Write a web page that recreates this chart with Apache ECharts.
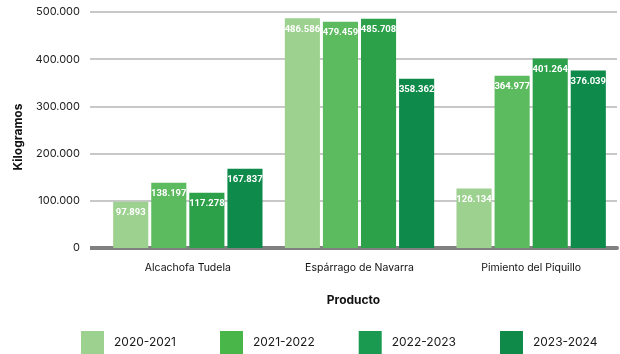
<!DOCTYPE html>
<html>
<head>
<meta charset="utf-8">
<script src="https://cdn.jsdelivr.net/npm/echarts@6/dist/echarts.min.js"></script>
<style>
  html, body { margin: 0; padding: 0; background: #fff; }
  #chart { width: 620px; height: 354px; }
</style>
</head>
<body>
<div id="chart"></div>
<script>
// Producción por producto y campaña (kg)
const productos = ['Alcachofa Tudela', 'Espárrago de Navarra', 'Pimiento del Piquillo'];
const campanas = ['2020-2021', '2021-2022', '2022-2023', '2023-2024'];
const kg2020 = [97893, 486586, 126134];
const kg2021 = [138197, 479459, 364977];
const kg2022 = [117278, 485708, 401264];
const kg2023 = [167837, 358362, 376039];
const yTicks = [0, 100000, 200000, 300000, 400000, 500000];

const barColors = ['#9dd18f', '#5cba5f', '#2da04a', '#0e8a4a'];
const legendColors = ['#9dd18f', '#49b649', '#1a9a50', '#108a48'];
const FONT = 'Inter, "Noto Sans", sans-serif';

const fmt = v => String(v).replace(/\B(?=(\d{3})+(?!\d))/g, '.');

const seriesData = [kg2020, kg2021, kg2022, kg2023];

const chart = echarts.init(document.getElementById('chart'), null, { renderer: 'canvas' });
chart.setOption({
  animation: false,
  textStyle: { fontFamily: FONT },
  grid: { left: 102, right: 3, top: 12, bottom: 106 },
  legend: {
    data: campanas.map((c, i) => ({ name: c, itemStyle: { color: legendColors[i] } })),
    top: 326,
    left: 76,
    width: 600,
    itemWidth: 23,
    itemHeight: 23,
    itemGap: 44,
    icon: 'rect',
    textStyle: { fontSize: 12, color: '#1a1a1a', fontFamily: FONT, padding: [0, 0, 0, 5] }
  },
  xAxis: {
    type: 'category',
    data: productos,
    name: 'Producto',
    nameLocation: 'middle',
    nameGap: 46,
    nameTextStyle: { fontSize: 12, fontWeight: 'bold', color: '#111', padding: [0, 12, 0, 0] },
    axisLine: { show: true, lineStyle: { color: '#808080', width: 4 } },
    axisTick: { show: false },
    axisLabel: { fontSize: 10.5, color: '#111', margin: 14 }
  },
  yAxis: [{
    type: 'value',
    min: 0,
    max: 500000,
    interval: 100000,
    name: 'Kilogramos',
    nameLocation: 'middle',
    nameGap: 78,
    nameTextStyle: { fontSize: 12, fontWeight: 'bold', color: '#111', padding: [0, 0, 0, -14] },
    axisLine: { show: false },
    axisTick: { show: true, length: 12, lineStyle: { color: '#c8c8c8', width: 2 } },
    splitLine: { show: true, lineStyle: { color: '#c8c8c8', width: 2 } },
    axisLabel: {
      fontSize: 11, color: '#222', margin: 22,
      customValues: yTicks,
      formatter: v => fmt(v)
    }
  }, {
    // extends the base line to the left of the plot area
    type: 'value',
    min: 0,
    max: 500000,
    position: 'left',
    axisLine: { show: false },
    splitLine: { show: false },
    axisLabel: { show: false },
    axisTick: { show: true, length: 12, customValues: [0], lineStyle: { color: '#808080', width: 4 } }
  }],
  series: seriesData.map((d, i) => ({
    name: campanas[i],
    type: 'bar',
    data: d,
    itemStyle: { color: barColors[i] },
    barGap: '8.5%',
    barCategoryGap: '13%',
    label: {
      show: true,
      position: 'insideTop',
      distance: 6,
      color: '#fff',
      fontWeight: 'bold',
      fontFamily: 'Roboto, sans-serif',
      fontSize: 9.5,
      formatter: p => fmt(p.value)
    }
  }))
});
</script>
</body>
</html>
